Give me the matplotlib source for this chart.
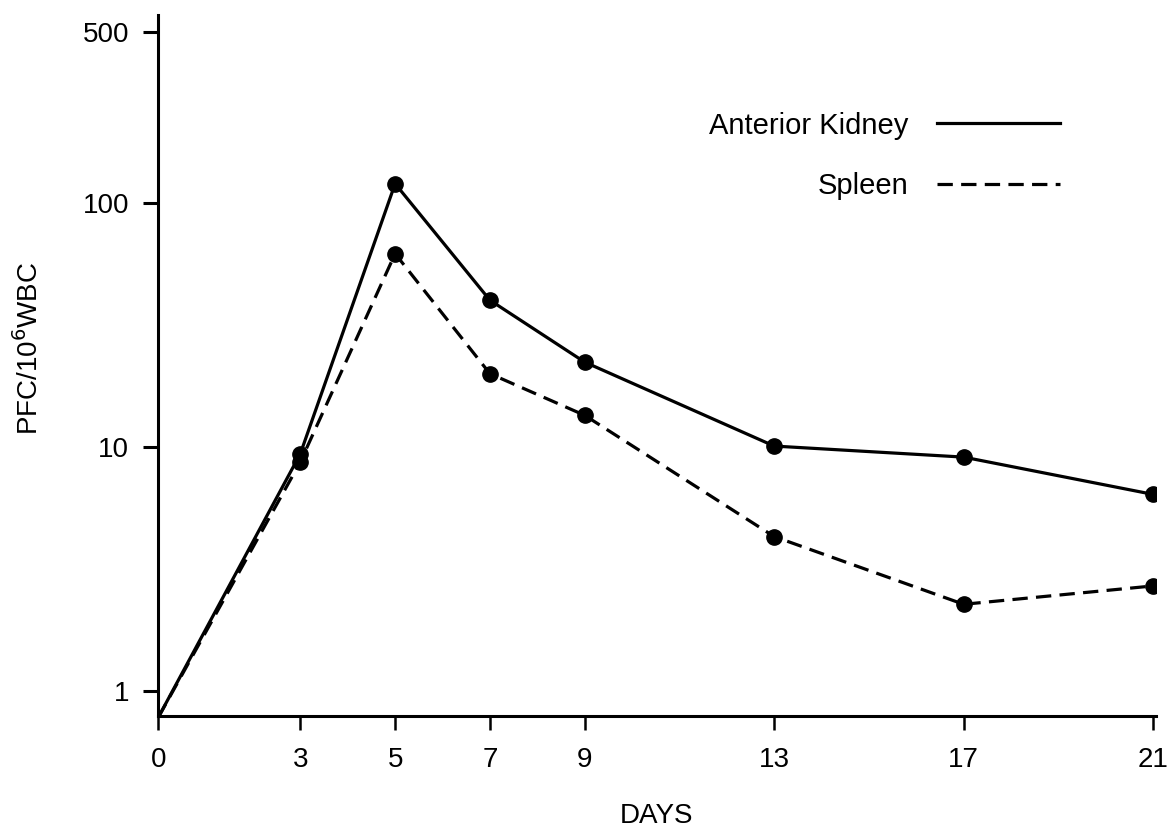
import matplotlib
matplotlib.use("Agg")
import matplotlib.pyplot as plt
from matplotlib.lines import Line2D
from matplotlib.ticker import FixedLocator, NullLocator, FixedFormatter

# Données
days = [0, 3, 5, 7, 9, 13, 17, 21]
kidney = [0.78, 9.4, 120, 40, 22.3, 10.1, 9.1, 6.4]
spleen = [0.78, 8.7, 62, 20, 13.5, 4.3, 2.27, 2.7]
xticks = [0, 3, 5, 7, 9, 13, 17, 21]
yticks = [1, 10, 100, 500]
ylabels = ["1", "10", "100", "500"]

plt.rcParams['font.family'] = ['Liberation Sans', 'DejaVu Sans']

fig = plt.figure(figsize=(11.72, 8.27), dpi=100)
ax = fig.add_axes([0.135, 0.134, 0.851, 0.848])

pts = list(range(1, len(days)))  # pas de point au jour 0
ax.plot(days, kidney, "k-", lw=2.3, marker="o", ms=11, markevery=pts)
ax.plot(days, spleen, "k--", lw=2.3, marker="o", ms=11, markevery=pts,
        dashes=(4.8, 2.6))

ax.set_yscale("log")
ax.set_ylim(0.79, 590)
ax.set_xlim(0, 21.05)
ax.yaxis.set_major_locator(FixedLocator(yticks))
ax.yaxis.set_major_formatter(FixedFormatter(ylabels))
ax.yaxis.set_minor_locator(NullLocator())
ax.set_xticks(xticks)

for s in ["top", "right"]:
    ax.spines[s].set_visible(False)
for s in ["left", "bottom"]:
    ax.spines[s].set_linewidth(2.2)
ax.tick_params(axis="y", length=11, width=2.2, pad=10, labelsize=20)
ax.tick_params(axis="x", length=10, width=1.8, pad=12, labelsize=20)

ax.set_xlabel("DAYS", fontsize=20, labelpad=22)
ax.set_ylabel("PFC/10$^6$WBC", fontsize=20)
ax.yaxis.set_label_coords(-0.115, 0.525)

handles = [Line2D([], [], color="k", lw=2.3),
           Line2D([], [], color="k", lw=2.3, ls="--", dashes=(4.8, 2.6))]
ax.legend(handles, ["Anterior Kidney", "Spleen"], loc="upper right",
          bbox_to_anchor=(0.904, 0.862), frameon=False, markerfirst=False,
          borderpad=0, borderaxespad=0,
          handlelength=4.2, handletextpad=1.0, labelspacing=1.1, fontsize=21)

fig.savefig("out.png", dpi=100)
